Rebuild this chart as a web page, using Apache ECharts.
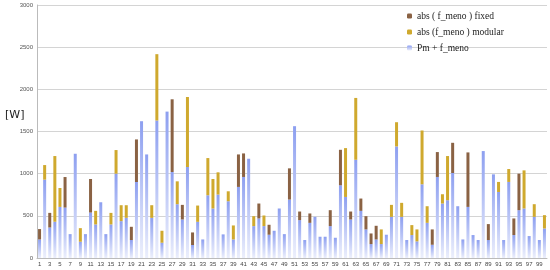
<!DOCTYPE html>
<html>
<head>
<meta charset="utf-8">
<script src="https://cdn.jsdelivr.net/npm/echarts@6/dist/echarts.min.js"></script>
<style>
  html, body { margin: 0; padding: 0; background: #fff; }
  #chart { width: 550px; height: 270px; }
</style>
</head>
<body>
<div id="chart"></div>
<script>
// bar index 1..100
const cats = Array.from({ length: 100 }, (_, i) => String(i + 1));

// Pm + f_meno (bottom of every stack)
const pm = [
  220, 929, 362, 430, 606, 598, 283, 1236, 193, 283,
  539, 398, 661, 283, 398, 1000, 437, 476, 213, 901,
  1622, 1228, 476, 1630, 181, 1736, 1020, 638, 457, 1079,
  154, 429, 220, 744, 587, 752, 280, 673, 220, 843,
  961, 1177, 378, 469, 378, 276, 323, 587, 283, 693,
  1563, 449, 213, 417, 488, 252, 252, 378, 240, 862,
  724, 457, 1165, 559, 339, 165, 220, 165, 276, 488,
  1323, 488, 213, 272, 197, 874, 417, 157, 961, 646,
  685, 1008, 614, 220, 606, 272, 213, 1268, 213, 992,
  783, 213, 902, 272, 567, 587, 260, 488, 213, 350
];

// abs(f_meno) fixed, stacked on top
const _ = null;
const fixedAbs = [
  123, _, 173, _, _, 362, _, _, _, _,
  398, _, _, _, _, _, _, _, 157, 505,
  _, _, _, _, _, _, 862, _, 173, _,
  149, _, _, _, _, _, _, _, _, 385,
  279, _, _, 177, _, 118, _, _, _, 370,
  _, 102, _, 111, _, _, _, 189, _, 421,
  _, 94, _, 146, 157, 126, 162, _, _, _,
  _, _, _, _, _, _, _, 182, 295, _,
  _, 358, _, _, 646, _, _, _, 189, _,
  _, _, _, 197, 433, _, _, _, _, _
];

// abs(f_meno) modular, stacked on top
const modularAbs = [
  _, 173, _, 779, 224, _, _, _, 161, _,
  _, 161, _, _, 137, 280, 189, 150, _, _,
  _, _, 150, 787, 142, _, _, 271, _, 830,
  _, 193, _, 441, 350, 264, _, 118, 166, _,
  _, _, 118, _, 126, _, _, _, _, _,
  _, _, _, _, _, _, _, _, _, _,
  579, _, 733, _, _, _, _, 174, _, 142,
  287, 166, _, 118, 142, 638, 197, _, _, 110,
  524, _, _, _, _, _, _, _, _, _,
  119, _, 153, _, _, 452, _, 150, _, 158
];

const chart = echarts.init(document.getElementById('chart'));

const blue = new echarts.graphic.LinearGradient(0, 0, 0, 1, [
  { offset: 0, color: '#8d9ff0' },
  { offset: 1, color: '#eceffc' }
]);

chart.setOption({
  animation: false,
  grid: { left: 37, right: 3, top: 5, bottom: 12 },
  legend: {
    orient: 'vertical', left: 402, top: 6,
    itemWidth: 5, itemHeight: 5, itemGap: 6,
    textStyle: { fontFamily: 'Liberation Serif', fontSize: 9.5, color: '#222' },
    data: ['abs ( f_meno ) fixed', 'abs (f_meno ) modular', 'Pm + f_meno']
  },
  graphic: [{
    type: 'text', left: 5, top: 110,
    style: { text: '[W]', font: '11px "DejaVu Sans"', fill: '#222' }
  }],
  xAxis: {
    type: 'category', data: cats,
    axisLine: { lineStyle: { color: '#bbb' } },
    axisTick: { show: false },
    axisLabel: { interval: 1, fontSize: 6, color: '#444', margin: 3 }
  },
  yAxis: {
    type: 'value', min: 0, max: 3000, interval: 500,
    axisLine: { show: true, lineStyle: { color: '#bbb' } },
    axisLabel: { fontSize: 6, color: '#555', margin: 4, formatter: (v) => String(v) },
    splitLine: { lineStyle: { color: '#d4d4d4' } }
  },
  series: [
    { name: 'Pm + f_meno', type: 'bar', stack: 'p', barWidth: 3, data: pm,
      itemStyle: { color: blue } },
    { name: 'abs ( f_meno ) fixed', type: 'bar', stack: 'p', barWidth: 3, data: fixedAbs,
      itemStyle: { color: '#8a6244' } },
    { name: 'abs (f_meno ) modular', type: 'bar', stack: 'p', barWidth: 3, data: modularAbs,
      itemStyle: { color: '#cfa92e' } }
  ]
});
</script>
</body>
</html>
